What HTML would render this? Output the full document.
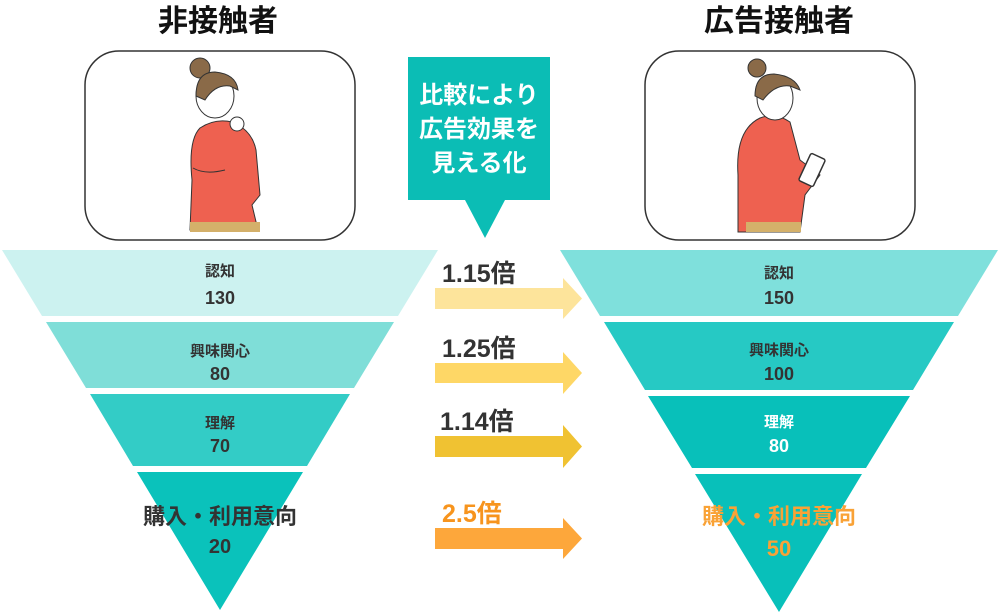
<!DOCTYPE html>
<html><head><meta charset="utf-8"><style>
html,body{margin:0;padding:0;background:#fff;}
svg{display:block;}
text{font-family:"Liberation Sans","Noto Sans CJK JP",sans-serif;font-weight:bold;}
</style></head><body>
<svg width="1000" height="614" viewBox="0 0 1000 614" xmlns="http://www.w3.org/2000/svg">
<!-- titles -->
<text x="218" y="31" font-size="30" text-anchor="middle" fill="#111">非接触者</text>
<text x="779" y="31" font-size="30" text-anchor="middle" fill="#111">広告接触者</text>
<!-- cards -->
<rect x="85" y="51" width="270" height="189" rx="34" fill="#fff" stroke="#333" stroke-width="1.5"/>
<rect x="645" y="51" width="270" height="189" rx="34" fill="#fff" stroke="#333" stroke-width="1.5"/>
<!-- left woman -->
<g>
<path d="M190 230 L192 180 Q188 140 200 128 Q215 118 232 122 Q252 130 256 150 L260 195 L252 205 L258 230 Z" fill="#ee6150" stroke="#333" stroke-width="1"/>
<rect x="190" y="222" width="70" height="10" fill="#d4b06a"/>
<circle cx="200" cy="68" r="10" fill="#8a6a48" stroke="#333"/>
<ellipse cx="215" cy="96" rx="19" ry="22" fill="#fff" stroke="#333"/>
<path d="M196 96 Q196 72 215 72 Q236 74 238 90 L230 86 Q215 84 205 100 Z" fill="#8a6a48" stroke="#333"/>
<circle cx="237" cy="124" r="7" fill="#fff" stroke="#333"/>
<path d="M193 168 Q205 175 225 170" fill="none" stroke="#333"/>
</g>
<!-- right woman -->
<g>
<path d="M738 232 L738 175 Q735 130 760 118 Q775 112 790 122 L800 160 L820 175 L805 195 L800 232 Z" fill="#ee6150" stroke="#333" stroke-width="1"/>
<rect x="746" y="222" width="55" height="10" fill="#d4b06a"/>
<circle cx="757" cy="68" r="9" fill="#8a6a48" stroke="#333"/>
<ellipse cx="775" cy="98" rx="18" ry="22" fill="#fff" stroke="#333"/>
<path d="M755 96 Q755 74 774 74 Q795 76 800 90 L790 86 Q775 84 763 100 Z" fill="#8a6a48" stroke="#333"/>
<rect x="804" y="155" width="16" height="30" rx="2" transform="rotate(25 812 170)" fill="#fff" stroke="#333" stroke-width="1.5"/>
</g>
<!-- callout -->
<path d="M408 57 H550 V200 H505 L485 238 L465 200 H408 Z" fill="#0bbdb5"/>
<text x="479" y="103" font-size="24" text-anchor="middle" fill="#fff">比較により</text>
<text x="479" y="137" font-size="24" text-anchor="middle" fill="#fff">広告効果を</text>
<text x="479" y="171" font-size="24" text-anchor="middle" fill="#fff">見える化</text>
<!-- left funnel -->
<polygon points="2,250 438,250 398,316 42,316" fill="#ccf2f0"/>
<polygon points="46,322 394,322 354,388 86,388" fill="#7fded8"/>
<polygon points="90,394 350,394 307,466 133,466" fill="#33ccc6"/>
<polygon points="137,472 303,472 220,610" fill="#0ac2bb"/>
<text x="220" y="276" font-size="15" text-anchor="middle" fill="#333">認知</text>
<text x="220" y="304" font-size="18" text-anchor="middle" fill="#333">130</text>
<text x="220" y="356" font-size="15" text-anchor="middle" fill="#333">興味関心</text>
<text x="220" y="380" font-size="18" text-anchor="middle" fill="#333">80</text>
<text x="220" y="428" font-size="15" text-anchor="middle" fill="#333">理解</text>
<text x="220" y="452" font-size="18" text-anchor="middle" fill="#333">70</text>
<text x="220" y="524" font-size="22" text-anchor="middle" fill="#333">購入・利用意向</text>
<text x="220" y="553" font-size="20" text-anchor="middle" fill="#333">20</text>
<!-- right funnel -->
<polygon points="560,250 998,250 958,316 600,316" fill="#7fe0dc"/>
<polygon points="604,322 954,322 913,390 645,390" fill="#26c9c4"/>
<polygon points="648,396 910,396 866,468 692,468" fill="#08c0ba"/>
<polygon points="695,474 862,474 779,612" fill="#08c0ba"/>
<text x="779" y="278" font-size="15" text-anchor="middle" fill="#333">認知</text>
<text x="779" y="304" font-size="18" text-anchor="middle" fill="#333">150</text>
<text x="779" y="355" font-size="15" text-anchor="middle" fill="#333">興味関心</text>
<text x="779" y="380" font-size="18" text-anchor="middle" fill="#333">100</text>
<text x="779" y="427" font-size="15" text-anchor="middle" fill="#fff">理解</text>
<text x="779" y="452" font-size="18" text-anchor="middle" fill="#fff">80</text>
<text x="779" y="524" font-size="22" text-anchor="middle" fill="#f9a236">購入・利用意向</text>
<text x="779" y="556" font-size="22" text-anchor="middle" fill="#f9a236">50</text>
<!-- arrows -->
<polygon points="435,288 563,288 563,278 582,298.5 563,319 563,309 435,309" fill="#fde49b"/>
<polygon points="435,363 563,363 563,352 582,373 563,394 563,383 435,383" fill="#fed766"/>
<polygon points="435,436 563,436 563,425 582,446.5 563,468 563,457 435,457" fill="#f0c232"/>
<polygon points="435,528 563,528 563,518 582,538.5 563,559 563,549 435,549" fill="#fda73b"/>
<text x="442" y="282" font-size="25" fill="#333">1.15倍</text>
<text x="442" y="357" font-size="25" fill="#333">1.25倍</text>
<text x="440" y="430" font-size="25" fill="#333">1.14倍</text>
<text x="442" y="522" font-size="25" fill="#f7941d">2.5倍</text>
</svg>
</body></html>
